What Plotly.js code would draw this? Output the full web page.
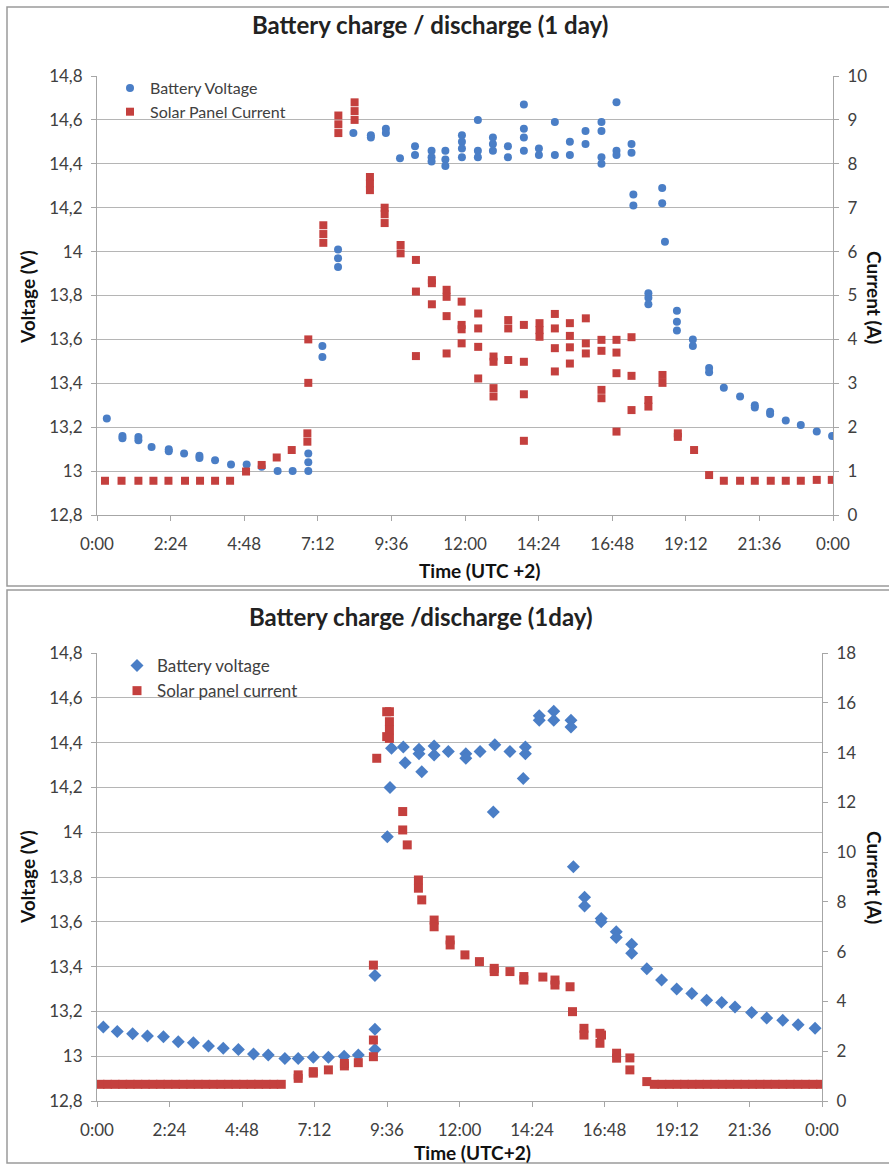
<!DOCTYPE html>
<html>
<head>
<meta charset="utf-8">
<script src="https://cdn.plot.ly/plotly-3.0.1.min.js"></script>
<style>html,body{margin:0;padding:0;background:#fff;}#chart{width:889px;height:1166px;}</style>
</head>
<body>
<div id="chart"></div>
<script>
// ---------- tick labels ----------
const timeTickVals = [0, 2.4, 4.8, 7.2, 9.6, 12, 14.4, 16.8, 19.2, 21.6, 24];
const timeTickText = ["0:00", "2:24", "4:48", "7:12", "9:36", "12:00", "14:24", "16:48", "19:12", "21:36", "0:00"];

// ---------- top chart: battery voltage (hours, V) ----------
const topVoltTime = [0.32, 0.83, 0.83, 1.35, 1.35, 1.78, 2.34, 2.34, 2.84, 3.34, 3.34, 3.85, 4.37, 4.88, 5.37, 5.89, 6.38,
  6.89, 6.89, 6.89, 7.35, 7.35, 7.86, 7.86, 7.86, 8.36, 8.93, 8.93, 9.42, 9.42, 9.88, 10.37, 10.37,
  10.91, 10.91, 10.91, 11.36, 11.36, 11.36, 11.9, 11.9, 11.9, 11.9, 12.42, 12.42, 12.42, 12.91, 12.91, 12.91,
  13.40, 13.40, 13.92, 13.92, 13.92, 13.92, 14.41, 14.41, 14.93, 14.93, 15.42, 15.42, 15.93, 15.93,
  16.45, 16.45, 16.45, 16.45, 16.94, 16.94, 16.94, 17.43, 17.43, 17.49, 17.49, 17.98, 17.98, 17.98,
  18.43, 18.43, 18.52, 18.91, 18.91, 18.91, 19.43, 19.43, 19.96, 19.96, 20.44, 20.97, 21.45, 21.45,
  21.95, 21.95, 22.46, 22.95, 23.47, 23.97];
const topVoltValue = [13.24, 13.16, 13.15, 13.155, 13.14, 13.11, 13.10, 13.09, 13.08, 13.07, 13.06, 13.05, 13.03, 13.03, 13.02, 13.00, 13.00,
  13.08, 13.04, 13.00, 13.57, 13.52, 14.01, 13.97, 13.93, 14.54, 14.53, 14.52, 14.56, 14.54, 14.425, 14.48, 14.44,
  14.46, 14.43, 14.41, 14.46, 14.42, 14.39, 14.53, 14.50, 14.47, 14.43, 14.60, 14.46, 14.43, 14.52, 14.49, 14.46,
  14.48, 14.43, 14.67, 14.56, 14.52, 14.46, 14.47, 14.44, 14.59, 14.44, 14.50, 14.44, 14.55, 14.49,
  14.59, 14.55, 14.43, 14.40, 14.68, 14.46, 14.44, 14.49, 14.45, 14.26, 14.21, 13.81, 13.79, 13.76,
  14.29, 14.22, 14.045, 13.73, 13.68, 13.64, 13.60, 13.57, 13.47, 13.45, 13.38, 13.34, 13.30, 13.29,
  13.27, 13.26, 13.23, 13.21, 13.18, 13.16];

// ---------- top chart: solar panel current (hours, A) ----------
const topCurrTime = [0.26, 0.80, 1.35, 1.84, 2.33, 2.87, 3.36, 3.85, 4.34, 4.86, 5.37, 5.86, 6.35, 6.86, 6.86, 6.89, 6.89,
  7.38, 7.38, 7.38, 7.87, 7.87, 7.87, 8.40, 8.40, 8.40, 8.90, 8.90, 8.90, 9.38, 9.38, 9.38, 9.90, 9.90,
  10.40, 10.40, 10.40, 10.92, 10.92, 10.92, 11.40, 11.40, 11.40, 11.40, 11.89, 11.89, 11.89, 11.89,
  12.43, 12.43, 12.43, 12.43, 12.93, 12.93, 12.93, 12.93, 13.41, 13.41, 13.41, 13.92, 13.92, 13.92, 13.92,
  14.43, 14.43, 14.43, 14.93, 14.93, 14.93, 14.93, 15.42, 15.42, 15.42, 15.42, 15.94, 15.94, 15.94,
  16.45, 16.45, 16.45, 16.45, 16.94, 16.94, 16.94, 16.94, 17.43, 17.43, 17.43, 17.98, 17.98, 18.44, 18.44,
  18.94, 18.94, 19.47, 19.96, 20.44, 20.97, 21.45, 21.97, 22.46, 22.95, 23.47, 23.96];
const topCurrValue = [0.78, 0.78, 0.78, 0.78, 0.78, 0.78, 0.78, 0.78, 0.78, 0.99, 1.14, 1.31, 1.48, 1.86, 1.67, 3.01, 4.00,
  6.6, 6.4, 6.2, 9.1, 8.9, 8.7, 9.4, 9.2, 9.0, 7.7, 7.55, 7.4, 7.0, 6.85, 6.65, 6.15, 5.96,
  5.81, 5.09, 3.62, 5.35, 5.28, 4.80, 5.13, 4.97, 4.53, 3.68, 4.86, 4.33, 4.23, 3.91,
  4.59, 4.25, 3.83, 3.11, 3.61, 3.49, 2.89, 2.70, 4.44, 4.25, 3.53, 4.33, 3.49, 2.75, 1.69,
  4.37, 4.21, 4.06, 4.58, 4.25, 3.80, 3.27, 4.37, 4.08, 3.82, 3.45, 4.48, 3.91, 3.68,
  3.99, 3.74, 2.85, 2.66, 3.99, 3.70, 3.23, 1.90, 4.05, 3.17, 2.39, 2.62, 2.47, 3.19, 3.01,
  1.86, 1.78, 1.48, 0.91, 0.78, 0.78, 0.78, 0.78, 0.78, 0.78, 0.80, 0.80];

// ---------- bottom chart: battery voltage (hours, V) ----------
const botVoltTime = [0.21, 0.67, 1.18, 1.67, 2.20, 2.69, 3.19, 3.69, 4.18, 4.68, 5.18, 5.67, 6.22, 6.66, 7.16, 7.66, 8.18, 8.65,
  9.20, 9.20, 9.20, 9.61, 9.70, 9.75, 10.14, 10.20, 10.66, 10.66, 10.75, 11.16, 11.16, 11.63, 12.21, 12.21,
  12.68, 13.12, 13.17, 13.67, 14.11, 14.18, 14.18, 14.64, 14.64, 15.12, 15.12, 15.69, 15.69, 15.77,
  16.14, 16.14, 16.69, 16.69, 17.19, 17.19, 17.70, 17.70, 18.20, 18.69, 19.19, 19.69, 20.18, 20.68,
  21.12, 21.67, 22.17, 22.70, 23.21, 23.77];
const botVoltValue = [13.13, 13.11, 13.10, 13.09, 13.087, 13.065, 13.06, 13.045, 13.035, 13.03, 13.01, 13.005, 12.99, 12.99, 12.995, 12.995, 13.0, 13.005,
  13.03, 13.12, 13.36, 13.98, 14.20, 14.375, 14.38, 14.31, 14.37, 14.35, 14.27, 14.385, 14.345, 14.36, 14.35, 14.33,
  14.36, 14.09, 14.39, 14.36, 14.24, 14.38, 14.35, 14.50, 14.52, 14.54, 14.50, 14.50, 14.47, 13.846,
  13.71, 13.67, 13.615, 13.60, 13.556, 13.53, 13.50, 13.46, 13.39, 13.34, 13.30, 13.28, 13.25, 13.24,
  13.22, 13.195, 13.17, 13.16, 13.14, 13.125];

// ---------- bottom chart: solar panel current (hours, A) ----------
const botCurrTime = [0.1, 0.35, 0.6, 0.85, 1.1, 1.35, 1.6, 1.85, 2.1, 2.35, 2.6, 2.85, 3.1, 3.35, 3.6, 3.85, 4.1, 4.35, 4.6, 4.85,
  5.1, 5.35, 5.6, 5.85, 6.1, 6.66, 6.66, 7.16, 7.16, 7.66, 8.19, 8.19, 8.65, 9.15, 9.15, 9.15, 9.26, 9.59, 9.59,
  9.68, 9.68, 9.68, 9.68, 10.12, 10.12, 10.27, 10.64, 10.64, 10.75, 11.16, 11.16, 11.69, 11.69, 12.18, 12.66,
  13.15, 13.15, 13.67, 14.13, 14.13, 14.76, 15.16, 15.16, 15.66, 15.74, 16.12, 16.12, 16.65, 16.65, 16.70,
  17.2, 17.2, 17.64, 17.64, 18.2, 18.45, 18.7, 18.95, 19.2, 19.45, 19.7, 19.95, 20.2, 20.45, 20.7, 20.95,
  21.2, 21.45, 21.7, 21.95, 22.2, 22.45, 22.7, 22.95, 23.2, 23.45, 23.7, 23.95];
const botCurrValue = [0.67, 0.67, 0.67, 0.67, 0.67, 0.67, 0.67, 0.67, 0.67, 0.67, 0.67, 0.67, 0.67, 0.67, 0.67, 0.67, 0.67, 0.67, 0.67, 0.67,
  0.67, 0.67, 0.67, 0.67, 0.67, 0.91, 1.05, 1.12, 1.18, 1.25, 1.41, 1.51, 1.54, 1.78, 2.45, 5.46, 13.77, 15.64, 14.64,
  15.64, 15.24, 14.91, 14.57, 11.63, 10.89, 10.29, 8.88, 8.55, 8.08, 7.27, 7.0, 6.47, 6.27, 5.87, 5.60,
  5.33, 5.20, 5.20, 5.0, 4.86, 4.98, 4.86, 4.66, 4.59, 3.59, 2.92, 2.65, 2.72, 2.32, 2.65,
  1.92, 1.72, 1.73, 1.25, 0.78, 0.67, 0.67, 0.67, 0.67, 0.67, 0.67, 0.67, 0.67, 0.67, 0.67, 0.67,
  0.67, 0.67, 0.67, 0.67, 0.67, 0.67, 0.67, 0.67, 0.67, 0.67, 0.67, 0.67];

// ---------- layout helpers (pixel -> paper) ----------
const W = 889, H = 1166, ML = 97, MR = 56;
const PW = W - ML - MR;
const px = x => (x - ML) / PW;
const py = y => (H - y) / H;

const BLUE = "#4A7EC6", RED = "#C4403E";
const FONT = "Lato, 'Open Sans', sans-serif";
const tickFont = {family: FONT, size: 17, color: "#404040"};
const gridCol = "#B5B5B5", axCol = "#A6A6A6";

const traces = [
  {x: topVoltTime, y: topVoltValue, type: "scatter", mode: "markers", name: "Battery Voltage",
   xaxis: "x", yaxis: "y", legend: "legend", legendgroup: "a",
   marker: {symbol: "circle", size: 8, color: BLUE}},
  {x: topCurrTime, y: topCurrValue, type: "scatter", mode: "markers", name: "Solar Panel Current",
   xaxis: "x", yaxis: "y2", legend: "legend", legendgroup: "b",
   marker: {symbol: "square", size: 8, color: RED}},
  {x: botVoltTime, y: botVoltValue, type: "scatter", mode: "markers", name: "Battery voltage",
   xaxis: "x2", yaxis: "y3", legend: "legend2", legendgroup: "c",
   marker: {symbol: "diamond", size: 10, color: BLUE}},
  {x: botCurrTime, y: botCurrValue, type: "scatter", mode: "markers", name: "Solar panel current",
   xaxis: "x2", yaxis: "y4", legend: "legend2", legendgroup: "d",
   marker: {symbol: "square", size: 9, color: RED}}
];

function xAx(domain, anchor) {
  return {domain: domain, anchor: anchor, range: [0, 24], tickmode: "array",
    tickvals: timeTickVals, ticktext: timeTickText, showgrid: false, zeroline: false,
    showline: true, linecolor: axCol, linewidth: 1, ticks: "outside", ticklen: 5, tickcolor: axCol,
    tickfont: tickFont, ticklabelstandoff: 9, fixedrange: true};
}
function yLeft(domain, anchor) {
  return {domain: domain, anchor: anchor, range: [12.8, 14.8], dtick: 0.2, tick0: 12.8,
    showgrid: true, gridcolor: gridCol, gridwidth: 1, zeroline: false,
    showline: true, linecolor: axCol, ticks: "outside", ticklen: 5, tickcolor: axCol,
    tickfont: tickFont, ticklabelstandoff: 5, fixedrange: true};
}
function yRight(over, anchor, maxv, dt) {
  return {overlaying: over, anchor: anchor, side: "right", range: [0, maxv], dtick: dt, tick0: 0,
    showgrid: false, zeroline: false, showline: true, linecolor: axCol,
    ticks: "outside", ticklen: 5, tickcolor: axCol, tickfont: tickFont, ticklabelstandoff: 5, fixedrange: true};
}

const titleFont = {family: FONT, size: 24, color: "#222", weight: "bold"};
const axTitleFont = {family: FONT, size: 19, color: "#111", weight: "bold"};

const layout = {
  width: W, height: H, margin: {l: ML, r: MR, t: 0, b: 0, pad: 0},
  paper_bgcolor: "#fff", plot_bgcolor: "#fff",
  separators: ",.", showlegend: true,
  xaxis: xAx([0, 1], "y"),
  yaxis: yLeft([py(515), py(76)], "x"),
  yaxis2: yRight("y", "x", 10, 1),
  xaxis2: xAx([0, px(822)], "y3"),
  yaxis3: yLeft([py(1101), py(653)], "x2"),
  yaxis4: yRight("y3", "x2", 18, 2),
  legend: {x: px(110), y: py(71), xanchor: "left", yanchor: "top", bgcolor: "rgba(255,255,255,0)",
    font: {family: FONT, size: 16, color: "#404040"}, traceorder: "grouped", tracegroupgap: 0,
    itemclick: false, itemdoubleclick: false},
  legend2: {x: px(117), y: py(648), xanchor: "left", yanchor: "top", bgcolor: "rgba(255,255,255,0)",
    font: {family: FONT, size: 17, color: "#404040"}, traceorder: "grouped", tracegroupgap: 0,
    itemclick: false, itemdoubleclick: false},
  annotations: [
    {text: "Battery charge / discharge (1 day)", x: px(430), y: py(25), xref: "paper", yref: "paper",
     showarrow: false, font: titleFont, xanchor: "center", yanchor: "middle"},
    {text: "Battery charge /discharge (1day)", x: px(421), y: py(616), xref: "paper", yref: "paper",
     showarrow: false, font: titleFont, xanchor: "center", yanchor: "middle"},
    {text: "Time (UTC +2)", x: px(480), y: py(570), xref: "paper", yref: "paper",
     showarrow: false, font: axTitleFont, xanchor: "center", yanchor: "middle"},
    {text: "Time (UTC+2)", x: px(472), y: py(1152), xref: "paper", yref: "paper",
     showarrow: false, font: axTitleFont, xanchor: "center", yanchor: "middle"},
    {text: "Voltage (V)", x: px(27), y: py(297), xref: "paper", yref: "paper", textangle: -90,
     showarrow: false, font: axTitleFont, xanchor: "center", yanchor: "middle"},
    {text: "Voltage (V)", x: px(27), y: py(877), xref: "paper", yref: "paper", textangle: -90,
     showarrow: false, font: axTitleFont, xanchor: "center", yanchor: "middle"},
    {text: "Current (A)", x: px(875), y: py(297), xref: "paper", yref: "paper", textangle: 90,
     showarrow: false, font: axTitleFont, xanchor: "center", yanchor: "middle"},
    {text: "Current (A)", x: px(875), y: py(877), xref: "paper", yref: "paper", textangle: 90,
     showarrow: false, font: axTitleFont, xanchor: "center", yanchor: "middle"}
  ],
  shapes: [
    {type: "rect", xref: "paper", yref: "paper", x0: px(7), x1: px(893), y0: py(586), y1: py(7),
     line: {color: "#9A9A9A", width: 1.5}, fillcolor: "rgba(0,0,0,0)", layer: "below"},
    {type: "rect", xref: "paper", yref: "paper", x0: px(7), x1: px(893), y0: py(1163), y1: py(590),
     line: {color: "#9A9A9A", width: 1.5}, fillcolor: "rgba(0,0,0,0)", layer: "below"}
  ]
};

Plotly.newPlot("chart", traces, layout, {displayModeBar: false, staticPlot: true});
</script>
</body>
</html>
